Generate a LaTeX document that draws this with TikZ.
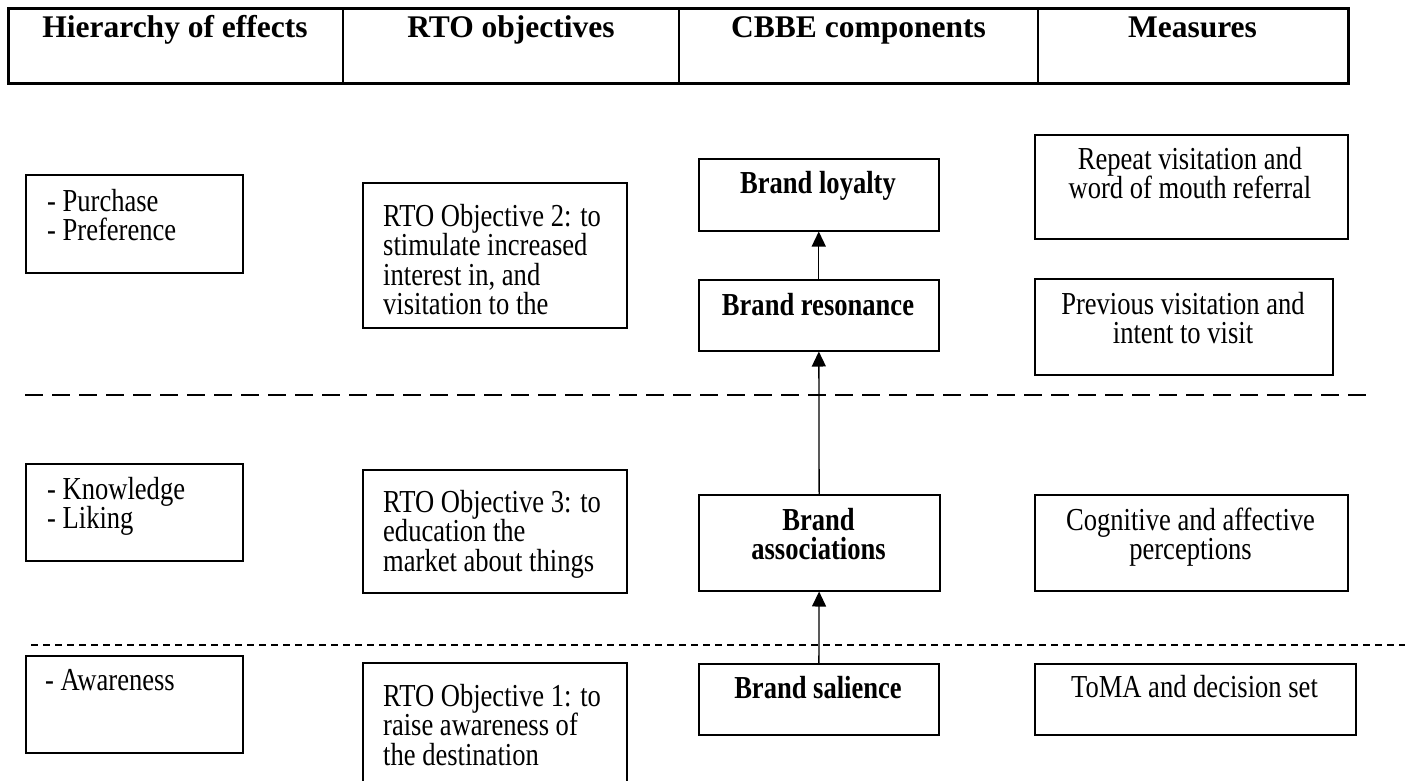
\documentclass[tikz,border=0pt]{standalone}
\usepackage{fontspec}
\setmainfont{Liberation Serif}[FakeStretch=0.83]
\newfontfamily\headfam{Liberation Serif}
\usepackage{tikz}
\usetikzlibrary{arrows.meta}
\newcommand\bodyfnt{\fontsize{32}{29.5}\selectfont}
\newcommand\headfnt{\headfam\bfseries\fontsize{31.5}{36}\selectfont}

\begin{document}
\begin{tikzpicture}[x=1pt, y=-1pt]
\tikzstyle{box}=[draw, line width=1.5pt, inner sep=0pt, anchor=north west]
% multi-line text: the base anchor sits on the last line
\tikzstyle{txt}=[inner sep=0pt, align=left, anchor=base west, font=\bodyfnt]
\tikzstyle{ctxt}=[inner sep=0pt, align=center, anchor=base, font=\bodyfnt]
\tikzstyle{headtxt}=[inner sep=0pt, anchor=base, font=\headfnt]
\tikzstyle{uparrow}=[line width=1.3pt, -{Triangle[length=15pt,width=14pt]}]
\tikzstyle{sepA}=[line width=2pt, dash pattern=on 18pt off 9pt]
\tikzstyle{sepB}=[line width=2pt, dash pattern=on 7pt off 5pt]
\useasboundingbox (0,0) rectangle (1405,780);

% header row
\node[box, line width=2.7pt, minimum width=1340pt, minimum height=75pt] (head) at (7,7) {};
\draw[line width=2pt] (343,7) -- (343,82) (679,7) -- (679,82) (1038,7) -- (1038,82);
\node[headtxt] (hEff) at (175,37) {Hierarchy of effects};
\node[headtxt] (hRto) at (511,37) {RTO objectives};
\node[headtxt] (hCbbe) at (858.5,37) {CBBE components};
\node[headtxt] (hMeas) at (1192.5,37) {Measures};

% top band
\node[box, minimum width=217pt, minimum height=98pt] (purch) at (25,174) {};
\node[txt] (purchT) at (47,240.5) {- Purchase\\- Preference};
\node[box, minimum width=264pt, minimum height=145pt] (obj2) at (362,182) {};
\node[txt] (obj2T) at (383,314.5) {RTO Objective 2: to\\stimulate increased\\interest in, and\\visitation to the};
\node[box, minimum width=240pt, minimum height=72pt] (loyal) at (698,158) {};
\node[ctxt, font=\bodyfnt\bfseries] (loyalT) at (818,193) {Brand loyalty};
\node[box, minimum width=313pt, minimum height=104pt] (repeat) at (1034,134) {};
\node[ctxt] (repeatT) at (1190,198.5) {Repeat visitation and\\word of mouth referral};
\node[box, minimum width=240pt, minimum height=71pt] (reson) at (698,279) {};
\node[ctxt, font=\bodyfnt\bfseries] (resonT) at (818,315) {Brand resonance};
\node[box, minimum width=298pt, minimum height=96pt] (prev) at (1034,278) {};
\node[ctxt] (prevT) at (1183,343.5) {Previous visitation and\\intent to visit};

\draw[sepA] (25,395) -- (1372,395);

% middle band
\node[box, minimum width=217pt, minimum height=97pt] (know) at (25,463) {};
\node[txt] (knowT) at (47,528.5) {- Knowledge\\- Liking};
\node[box, minimum width=264pt, minimum height=123pt] (obj3) at (362,469) {};
\node[txt] (obj3T) at (383,571) {RTO Objective 3: to\\education the\\market about things};
\node[box, minimum width=241pt, minimum height=96pt] (assoc) at (698,494) {};
\node[ctxt, font=\bodyfnt\bfseries] (assocT) at (818.5,559.5) {Brand\\associations};
\node[box, minimum width=313pt, minimum height=96pt] (cogn) at (1034,494) {};
\node[ctxt] (cognT) at (1190.5,559.5) {Cognitive and affective\\perceptions};

\draw[sepB] (31,645) -- (1405,645);

% bottom band
\node[box, minimum width=217pt, minimum height=97pt] (aware) at (25,655) {};
\node[txt] (awareT) at (45,690) {- Awareness};
\node[box, minimum width=264pt, minimum height=160pt] (obj1) at (362,662) {};
\node[txt] (obj1T) at (383,765) {RTO Objective 1: to\\raise awareness of\\the destination};
\node[box, minimum width=240pt, minimum height=71pt] (salie) at (698,663) {};
\node[ctxt, font=\bodyfnt\bfseries] (salieT) at (818,698) {Brand salience};
\node[box, minimum width=321pt, minimum height=71pt] (toma) at (1034,663) {};
\node[ctxt] (tomaT) at (1194.5,697) {ToMA and decision set};

% CBBE ladder
\draw[uparrow] (salie) -- (assoc);
\draw[uparrow] (assoc) -- (reson);
\draw[uparrow] (reson) -- (loyal);
\end{tikzpicture}
\end{document}
